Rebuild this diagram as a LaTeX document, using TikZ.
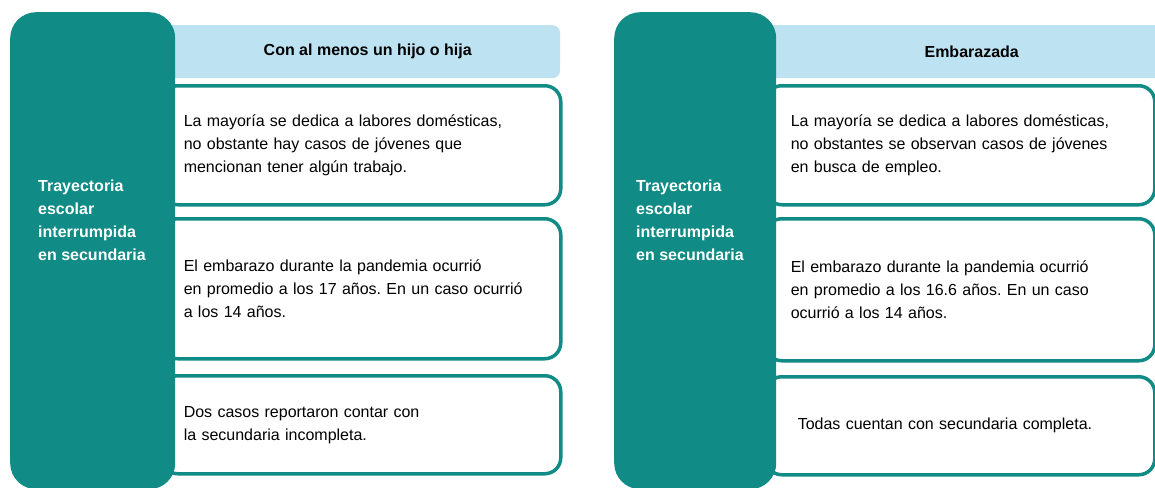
\documentclass[tikz,border=0pt]{standalone}
\usepackage{fontspec}
\setmainfont{Liberation Sans}
\usepackage{xcolor}
\frenchspacing
\definecolor{verde}{HTML}{108B86}
\definecolor{celeste}{HTML}{BDE3F3}
\tikzstyle{bar} = [rectangle, rounded corners=26pt, fill=verde, minimum width=165pt, minimum height=477pt, anchor=north west]
\tikzstyle{bartext} = [anchor=west, inner sep=0pt, align=left, text=white, font=\bfseries\fontsize{16}{23}\selectfont]
\tikzstyle{head} = [rectangle, rounded corners=8pt, fill=celeste, minimum width=400pt, minimum height=53pt, anchor=north west, execute at begin node=\hspace*{15pt}, font=\bfseries\fontsize{16}{20}\selectfont]
\tikzstyle{cell} = [rectangle, draw=verde, line width=3.5pt, rounded corners=16pt, fill=white, anchor=north west, align=left, inner xsep=22pt, text width=355pt, font=\fontsize{16}{23}\selectfont]

\begin{document}
\begin{tikzpicture}[x=1pt,y=-1pt]
  \useasboundingbox (0,0) rectangle (1155,487);

  % con al menos un hijo o hija
  \node[head] (H_hijo) at (160,25) {Con al menos un hijo o hija};
  \node[cell, minimum height=119pt] (L_hijo) at (160,84) {La mayoría se dedica a labores domésticas,\\no obstante hay casos de jóvenes que\\mencionan tener algún trabajo.};
  \node[cell, minimum height=140pt] (E_hijo) at (160,217) {El embarazo durante la pandemia ocurrió\\en promedio a los 17 años. En un caso ocurrió\\a los 14 años.};
  \node[cell, minimum height=98pt] (S_hijo) at (160,374) {Dos casos reportaron contar con\\la secundaria incompleta.};
  \node[bar] (B_hijo) at (10,12) {};
  \node[bartext] (T_hijo) at (38,220) {Trayectoria\\escolar\\interrumpida\\en secundaria};

  % embarazada
  \node[head] (H_emb) at (764,25) {Embarazada};
  \node[cell, inner xsep=25pt, text width=339pt, minimum height=119pt] (L_emb) at (764,84) {La mayoría se dedica a labores domésticas,\\no obstantes se observan casos de jóvenes\\en busca de empleo.};
  \node[cell, inner xsep=25pt, text width=339pt, minimum height=142pt] (E_emb) at (764,217) {El embarazo durante la pandemia ocurrió\\en promedio a los 16.6 años. En un caso\\ocurrió a los 14 años.};
  \node[cell, inner xsep=32pt, text width=325pt, minimum height=98pt] (S_emb) at (764,375) {Todas cuentan con secundaria completa.};
  \node[bar, minimum width=162pt] (B_emb) at (614,12) {};
  \node[bartext] (T_emb) at (636,220) {Trayectoria\\escolar\\interrumpida\\en secundaria};
\end{tikzpicture}
\end{document}
